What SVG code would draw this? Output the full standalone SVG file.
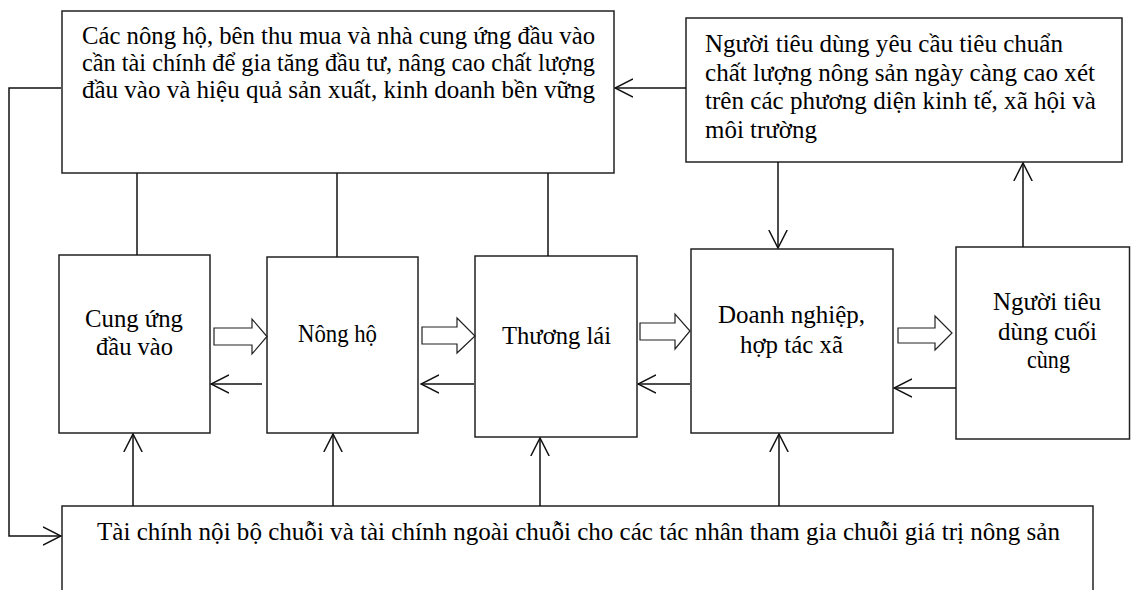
<svg xmlns="http://www.w3.org/2000/svg" width="1131" height="590" viewBox="0 0 1131 590" font-family="'Liberation Serif', 'Times New Roman', serif">
<style>
.box{fill:#fff;stroke:#222;stroke-width:1.5}
.ln{fill:none;stroke:#111;stroke-width:1.5}
.ha{fill:#fff;stroke:#222;stroke-width:1.2}
text{font-family:'Liberation Serif','Times New Roman',serif;font-size:25px;fill:#000}
.c{text-anchor:middle}
</style>
<defs>
<marker id="ah" markerUnits="userSpaceOnUse" viewBox="0 0 19 20" refX="18" refY="10" markerWidth="19" markerHeight="20" orient="auto">
<path d="M0,0.8 L18,10 L0,19.2" fill="none" stroke="#111" stroke-width="1.5"/>
</marker>
</defs>
<rect width="1131" height="590" fill="#fff"/>

<g id="n-top-left">
<rect class="box" x="62" y="11" width="552" height="162"/>
<text x="82" y="44" textLength="513" lengthAdjust="spacingAndGlyphs">Các nông hộ, bên thu mua và nhà cung ứng đầu vào</text>
<text x="82" y="71" textLength="513" lengthAdjust="spacingAndGlyphs">cần tài chính để gia tăng đầu tư, nâng cao chất lượng</text>
<text x="82" y="98" textLength="513" lengthAdjust="spacingAndGlyphs">đầu vào và hiệu quả sản xuất, kinh doanh bền vững</text>
</g>

<g id="n-top-right">
<rect class="box" x="686" y="18" width="436" height="144"/>
<text x="705" y="52" textLength="358" lengthAdjust="spacingAndGlyphs">Người tiêu dùng yêu cầu tiêu chuẩn</text>
<text x="705" y="81" textLength="390" lengthAdjust="spacingAndGlyphs">chất lượng nông sản ngày càng cao xét</text>
<text x="705" y="109" textLength="391" lengthAdjust="spacingAndGlyphs">trên các phương diện kinh tế, xã hội và</text>
<text x="705" y="138" textLength="112" lengthAdjust="spacingAndGlyphs">môi trường</text>
</g>

<g id="n-cung-ung">
<rect class="box" x="59" y="255" width="151" height="178"/>
<text x="134" y="327" textLength="98" lengthAdjust="spacingAndGlyphs" class="c">Cung ứng</text>
<text x="134.5" y="355" textLength="77" lengthAdjust="spacingAndGlyphs" class="c">đầu vào</text>
</g>

<g id="n-nong-ho">
<rect class="box" x="267" y="257" width="151" height="176"/>
<text x="337.5" y="342" textLength="79" lengthAdjust="spacingAndGlyphs" class="c">Nông hộ</text>
</g>

<g id="n-thuong-lai">
<rect class="box" x="475" y="256" width="162" height="181"/>
<text x="556.5" y="344" textLength="109" lengthAdjust="spacingAndGlyphs" class="c">Thương lái</text>
</g>

<g id="n-doanh-nghiep">
<rect class="box" x="691" y="249" width="202" height="184"/>
<text x="791.5" y="323" textLength="147" lengthAdjust="spacingAndGlyphs" class="c">Doanh nghiệp,</text>
<text x="791.5" y="353" textLength="103" lengthAdjust="spacingAndGlyphs" class="c">hợp tác xã</text>
</g>

<g id="n-nguoi-tieu-dung">
<rect class="box" x="956" y="247" width="173.5" height="192"/>
<text x="1047" y="310" textLength="108" lengthAdjust="spacingAndGlyphs" class="c">Người tiêu</text>
<text x="1047.5" y="340" textLength="99" lengthAdjust="spacingAndGlyphs" class="c">dùng cuối</text>
<text x="1048.5" y="368" textLength="43" lengthAdjust="spacingAndGlyphs" class="c">cùng</text>
</g>

<g id="n-tai-chinh">
<rect class="box" x="62" y="506" width="1031" height="120"/>
<text x="97" y="540" textLength="963" lengthAdjust="spacingAndGlyphs">Tài chính nội bộ chuỗi và tài chính ngoài chuỗi cho các tác nhân tham gia chuỗi giá trị nông sản</text>
</g>

<g id="connectors">
<line class="ln" x1="137" y1="173" x2="137" y2="255"/>
<line class="ln" x1="337" y1="173" x2="337" y2="257"/>
<line class="ln" x1="548" y1="173" x2="548" y2="256"/>
<polyline class="ln" points="61,88 9,88 9,536 61,536" marker-end="url(#ah)"/>
<line class="ln" x1="686" y1="88" x2="615" y2="88" marker-end="url(#ah)"/>
<line class="ln" x1="778" y1="162" x2="778" y2="248" marker-end="url(#ah)"/>
<line class="ln" x1="1023" y1="247" x2="1023" y2="163" marker-end="url(#ah)"/>
<polygon class="ha" points="214,328 252,328 252,319 267,336.5 252,354 252,345 214,345"/>
<polygon class="ha" points="422,327 457,327 457,318 475,336 457,353 457,344 422,344"/>
<polygon class="ha" points="640,323 675,323 675,314 690,331 675,349 675,340 640,340"/>
<polygon class="ha" points="898,328 935,328 935,316 952,333 935,350 935,343 898,343"/>
<line class="ln" x1="262" y1="384" x2="211" y2="384" marker-end="url(#ah)"/>
<line class="ln" x1="474" y1="384" x2="421" y2="384" marker-end="url(#ah)"/>
<line class="ln" x1="690" y1="384" x2="638" y2="384" marker-end="url(#ah)"/>
<line class="ln" x1="956" y1="388" x2="894" y2="388" marker-end="url(#ah)"/>
<line class="ln" x1="133" y1="506" x2="133" y2="434" marker-end="url(#ah)"/>
<line class="ln" x1="333" y1="506" x2="333" y2="434" marker-end="url(#ah)"/>
<line class="ln" x1="540" y1="506" x2="540" y2="438" marker-end="url(#ah)"/>
<line class="ln" x1="779" y1="506" x2="779" y2="434" marker-end="url(#ah)"/>
</g>
</svg>
